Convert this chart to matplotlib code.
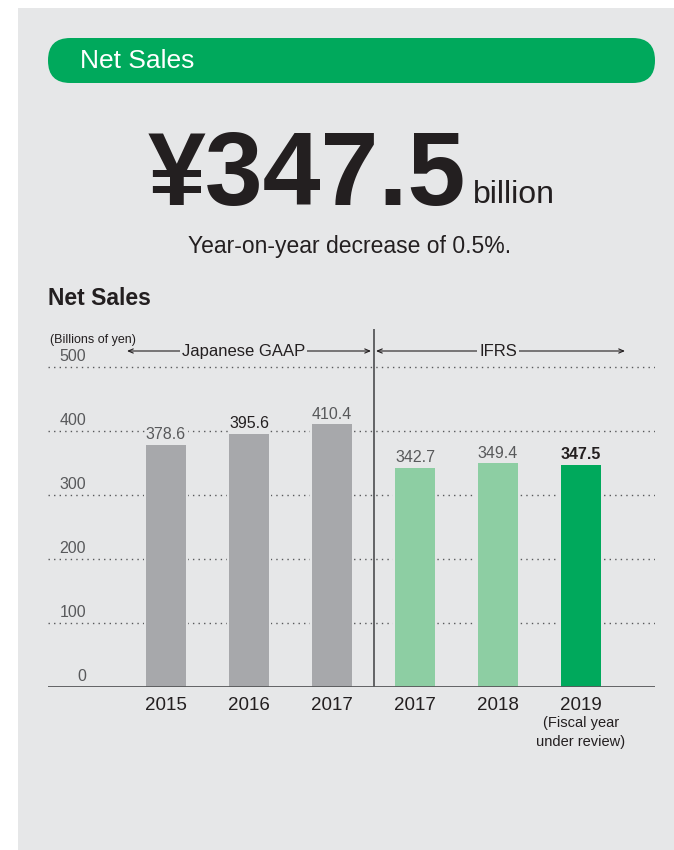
import matplotlib.pyplot as plt
from matplotlib.patches import FancyBboxPatch, Rectangle

plt.rcParams["font.family"] = ["Liberation Sans", "DejaVu Sans"]

# data
years = ["2015", "2016", "2017", "2017", "2018", "2019"]
sales = [378.6, 395.6, 410.4, 342.7, 349.4, 347.5]
bar_colors = ["#a7a8ab", "#a7a8ab", "#a7a8ab", "#8dcea3", "#8dcea3", "#00a95c"]
label_colors = ["#58595b", "#231f20", "#58595b", "#58595b", "#58595b", "#231f20"]
label_weights = ["normal", "normal", "normal", "normal", "normal", "bold"]
yticks = [0, 100, 200, 300, 400, 500]

W, H = 674, 850
BG = "#e6e7e8"
GREEN = "#00a95c"
TXT = "#231f20"

fig = plt.figure(figsize=(W / 100, H / 100), dpi=100)
fig.patch.set_facecolor("white")


def fx(px):
    return px / W


def fy(py):
    return 1 - py / H


# gray panel
fig.patches.append(Rectangle((fx(18), 0), 1 - fx(18), fy(8), transform=fig.transFigure,
                             facecolor=BG, edgecolor="none", zorder=-2))
# green pill header
fig.patches.append(FancyBboxPatch((fx(48), fy(83)), fx(655) - fx(48), fy(38) - fy(83),
                                  boxstyle="round,pad=0,rounding_size=0.033",
                                  mutation_aspect=W / H,
                                  transform=fig.transFigure, facecolor=GREEN,
                                  edgecolor="none", zorder=-1))
fig.text(fx(80), fy(61), "Net Sales", color="white", fontsize=19, va="center", ha="left")

# headline figure
fig.text(fx(148), fy(205), "¥347.5", color=TXT, fontsize=75, fontweight="bold",
         ha="left", va="baseline")
fig.text(fx(473), fy(203), "billion", color=TXT, fontsize=23, ha="left", va="baseline")
fig.text(fx(350), fy(253), "Year-on-year decrease of 0.5%.", color=TXT, fontsize=16.5,
         ha="center", va="baseline")
fig.text(fx(48), fy(305), "Net Sales", color=TXT, fontsize=16.5, fontweight="bold",
         ha="left", va="baseline")

# chart axes
ax = fig.add_axes([fx(48), fy(687), fx(655) - fx(48), fy(328.6) - fy(687)])
ax.set_zorder(2)
ax.patch.set_visible(False)
x = list(range(len(years)))
ax.set_xlim((48 - 166) / 83, (655 - 166) / 83)
ax.set_ylim(0, 560)
for s in ax.spines.values():
    s.set_visible(False)
ax.set_xticks([])
ax.set_yticks([])

for v in yticks[1:]:
    ax.axhline(v, color="#58595b", lw=1.0, ls=(0, (1, 3)), zorder=1)
for v in yticks:
    ax.text((86 - 166) / 83, v + 4, str(v), ha="right", va="bottom", fontsize=11.5,
            color="#58595b")
ax.axhline(0, color="#58595b", lw=1.3, zorder=3)

# small clear margin round each bar, then the bars
ax.bar(x, sales, width=0.48 + 5 / 83, color=BG, zorder=1.5)
ax.bar(x, sales, width=0.48, color=bar_colors, zorder=2)
for xi, v, c, w in zip(x, sales, label_colors, label_weights):
    ax.text(xi, v + 4, f"{v:.1f}", ha="center", va="bottom", fontsize=11.5, color=c,
            fontweight=w, zorder=2.5,
            bbox=dict(facecolor=BG, edgecolor="none", pad=1))
for xi, yr in zip(x, years):
    ax.text(xi, -15, yr, ha="center", va="top", fontsize=13.5, color=TXT, clip_on=False)
ax.text(x[-1], -45, "(Fiscal year\nunder review)", ha="center", va="top", fontsize=10.5,
        color=TXT, linespacing=1.5, clip_on=False)

# divider between standards
ax.axvline(2.5, color="#58595b", lw=1.3, zorder=3)
ax.text(-1.40, 552, "(Billions of yen)", ha="left", va="top", fontsize=9, color=TXT)

ay = 525
arrow = dict(arrowstyle="<->,head_length=0.35,head_width=0.15", color=TXT, lw=0.8,
             shrinkA=0, shrinkB=0)
ax.annotate("", xy=(-0.47, ay), xytext=(2.47, ay), arrowprops=arrow)
ax.annotate("", xy=(2.53, ay), xytext=(5.53, ay), arrowprops=arrow)
ax.text(0.93, ay, "Japanese GAAP", ha="center", va="center", fontsize=12, color=TXT,
        bbox=dict(facecolor=BG, edgecolor="none", pad=1.5))
ax.text(4.0, ay, "IFRS", ha="center", va="center", fontsize=12, color=TXT,
        bbox=dict(facecolor=BG, edgecolor="none", pad=1.5))

fig.savefig("out.png", dpi=100)
